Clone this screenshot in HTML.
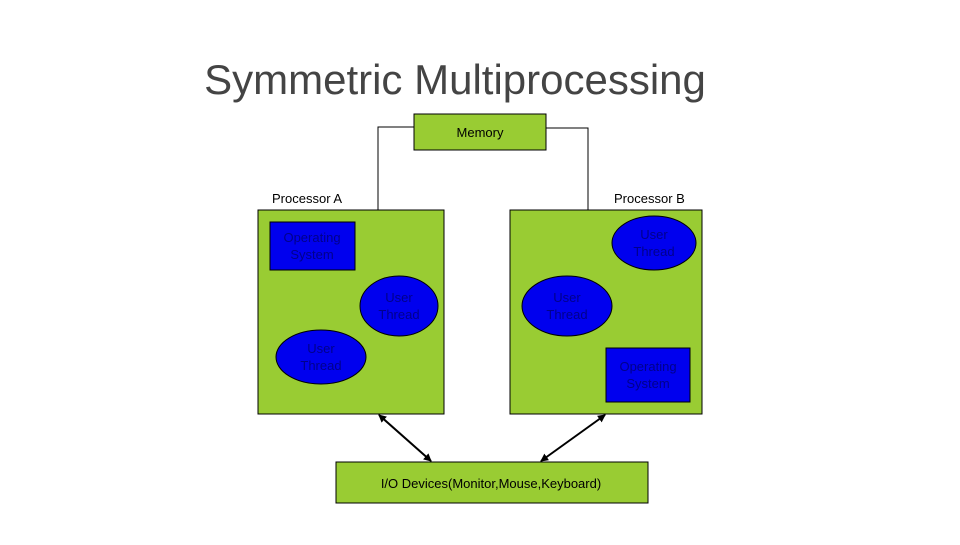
<!DOCTYPE html>
<html><head><style>
body{margin:0;background:#fff;width:960px;height:540px;overflow:hidden;font-family:"Liberation Sans",sans-serif}
</style></head><body>
<svg width="960" height="540" xmlns="http://www.w3.org/2000/svg">
<defs><marker id="a" markerWidth="8" markerHeight="8" refX="7" refY="4" orient="auto-start-reverse" markerUnits="userSpaceOnUse"><path d="M0,0 L8,4 L0,8 z" fill="#000"/></marker></defs>
<text x="455" y="94" text-anchor="middle" font-size="42" fill="#444" font-family="Liberation Sans,sans-serif">Symmetric Multiprocessing</text>
<polyline points="378,210 378,127 414,127" fill="none" stroke="#000" stroke-width="1"/>
<polyline points="588,210 588,128 546,128" fill="none" stroke="#000" stroke-width="1"/>
<rect x="414" y="114" width="132" height="36" fill="#99cc33" stroke="#000"/>
<text x="480" y="137" text-anchor="middle" font-size="13">Memory</text>
<text x="272" y="203" font-size="13">Processor A</text>
<text x="614" y="203" font-size="13">Processor B</text>
<rect x="258" y="210" width="186" height="204" fill="#99cc33" stroke="#000"/>
<rect x="510" y="210" width="192" height="204" fill="#99cc33" stroke="#000"/>
<g fill="#0000ee" stroke="#000">
<rect x="270" y="222" width="85" height="48"/>
<ellipse cx="399" cy="306" rx="39" ry="30"/>
<ellipse cx="321" cy="357" rx="45" ry="27"/>
<ellipse cx="654" cy="243" rx="42" ry="27"/>
<ellipse cx="567" cy="306" rx="45" ry="30"/>
<rect x="606" y="348" width="84" height="54"/>
</g>
<g fill="#00008b" font-size="13" text-anchor="middle">
<text x="312" y="242">Operating</text><text x="312" y="259">System</text>
<text x="399" y="302">User</text><text x="399" y="319">Thread</text>
<text x="321" y="353">User</text><text x="321" y="370">Thread</text>
<text x="654" y="239">User</text><text x="654" y="256">Thread</text>
<text x="567" y="302">User</text><text x="567" y="319">Thread</text>
<text x="648" y="371">Operating</text><text x="648" y="388">System</text>
</g>
<line x1="379" y1="415" x2="431" y2="461" stroke="#000" stroke-width="2" marker-start="url(#a)" marker-end="url(#a)"/>
<line x1="605" y1="415" x2="541" y2="461" stroke="#000" stroke-width="2" marker-start="url(#a)" marker-end="url(#a)"/>
<rect x="336" y="462" width="312" height="41" fill="#99cc33" stroke="#000"/>
<text x="491" y="488" text-anchor="middle" font-size="13">I/O Devices(Monitor,Mouse,Keyboard)</text>
</svg>
</body></html>
